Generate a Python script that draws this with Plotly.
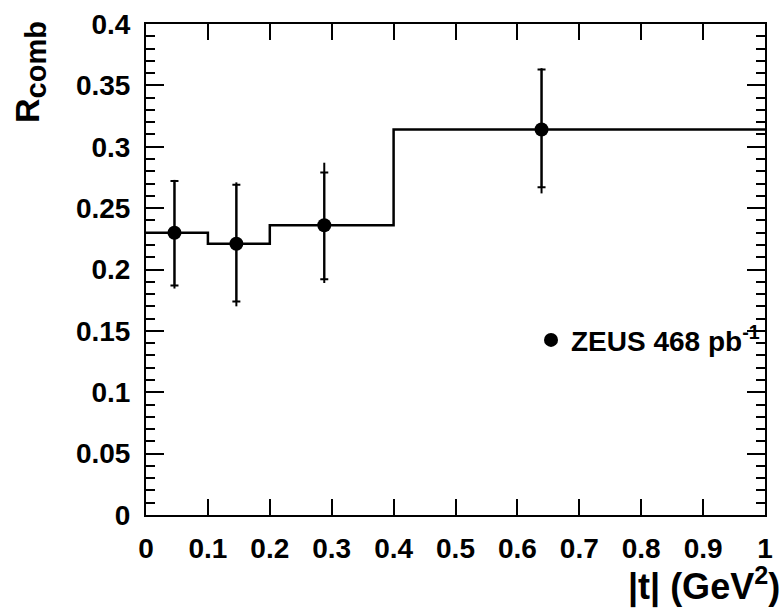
import plotly.graph_objects as go

# |t| bins and combined ratio R_comb
bin_edges = [0.0, 0.1, 0.2, 0.4, 1.0]
t_mean = [0.046, 0.146, 0.288, 0.639]
r_comb = [0.230, 0.221, 0.236, 0.314]

# statistical (inner caps) and total (full bar) uncertainties
stat_up = [0.042, 0.048, 0.043, 0.049]
stat_dn = [0.043, 0.047, 0.044, 0.047]
tot_up = [0.043, 0.050, 0.051, 0.050]
tot_dn = [0.0455, 0.051, 0.047, 0.052]

x_ticks = [0, 0.1, 0.2, 0.3, 0.4, 0.5, 0.6, 0.7, 0.8, 0.9, 1]
x_labels = ["0", "0.1", "0.2", "0.3", "0.4", "0.5", "0.6", "0.7", "0.8", "0.9", "1"]
y_ticks = [0, 0.05, 0.1, 0.15, 0.2, 0.25, 0.3, 0.35, 0.4]
y_labels = ["0", "0.05", "0.1", "0.15", "0.2", "0.25", "0.3", "0.35", "0.4"]

FONT = "Liberation Sans, Arial, Helvetica, sans-serif"

fig = go.Figure()

# step histogram of R_comb over the |t| bins
fig.add_trace(go.Scatter(
    x=bin_edges, y=r_comb + [r_comb[-1]],
    mode="lines", line=dict(color="black", width=2.5, shape="hv"),
    showlegend=False, hoverinfo="skip",
))

# total uncertainty: plain bars
fig.add_trace(go.Scatter(
    x=t_mean, y=r_comb, mode="markers",
    marker=dict(color="rgba(0,0,0,0)", size=1),
    error_y=dict(type="data", symmetric=False, array=tot_up, arrayminus=tot_dn,
                 color="black", thickness=2, width=0),
    showlegend=False, hoverinfo="skip",
))

# statistical uncertainty with caps, plus the data points
fig.add_trace(go.Scatter(
    x=t_mean, y=r_comb, mode="markers", name="ZEUS 468 pb<sup>-1</sup>",
    marker=dict(color="black", size=14, symbol="circle"),
    error_y=dict(type="data", symmetric=False, array=stat_up, arrayminus=stat_dn,
                 color="black", thickness=2, width=4),
    showlegend=True,
))

axis_common = dict(
    showline=True, linecolor="black", linewidth=2, mirror="ticks",
    ticks="inside", tickcolor="black", tickwidth=1.5,
    showgrid=False, zeroline=False,
    tickfont=dict(family=FONT, size=28, color="black", weight="bold"),
)

fig.update_xaxes(
    range=[0, 1], tickvals=x_ticks, ticktext=x_labels, ticklen=16,
    ticklabelstandoff=7,
    **axis_common,
)
fig.update_yaxes(
    range=[0, 0.4], tickvals=y_ticks, ticktext=y_labels, ticklen=18,
    ticklabelstandoff=8,
    minor=dict(dtick=0.01, ticklen=9, ticks="inside", tickcolor="black", tickwidth=1.5, showgrid=False),
    **axis_common,
)

fig.add_annotation(
    text="<b>|t| (GeV<sup>2</sup>)</b>", xref="paper", yref="paper",
    x=1, y=0, xanchor="right", yanchor="top", xshift=17, yshift=-44,
    showarrow=False, font=dict(family=FONT, size=36, color="black"),
)
fig.add_annotation(
    text="<b>R<sub><span style='font-size:29px'>comb</span></sub></b>",
    xref="paper", yref="paper",
    x=0, y=1, xanchor="left", yanchor="top", xshift=-140, yshift=5,
    textangle=-90, showarrow=False, font=dict(family=FONT, size=34, color="black"),
)

fig.update_layout(
    width=782, height=614,
    margin=dict(l=146, r=9, t=20, b=99),
    paper_bgcolor="white", plot_bgcolor="white",
    showlegend=True,
    legend=dict(
        x=1.0, y=0.356, xanchor="right", yanchor="middle",
        bgcolor="rgba(0,0,0,0)", borderwidth=0,
        font=dict(family=FONT, size=28, color="black", weight="bold"),
        itemwidth=30,
    ),
)

fig.write_html("out.html")
